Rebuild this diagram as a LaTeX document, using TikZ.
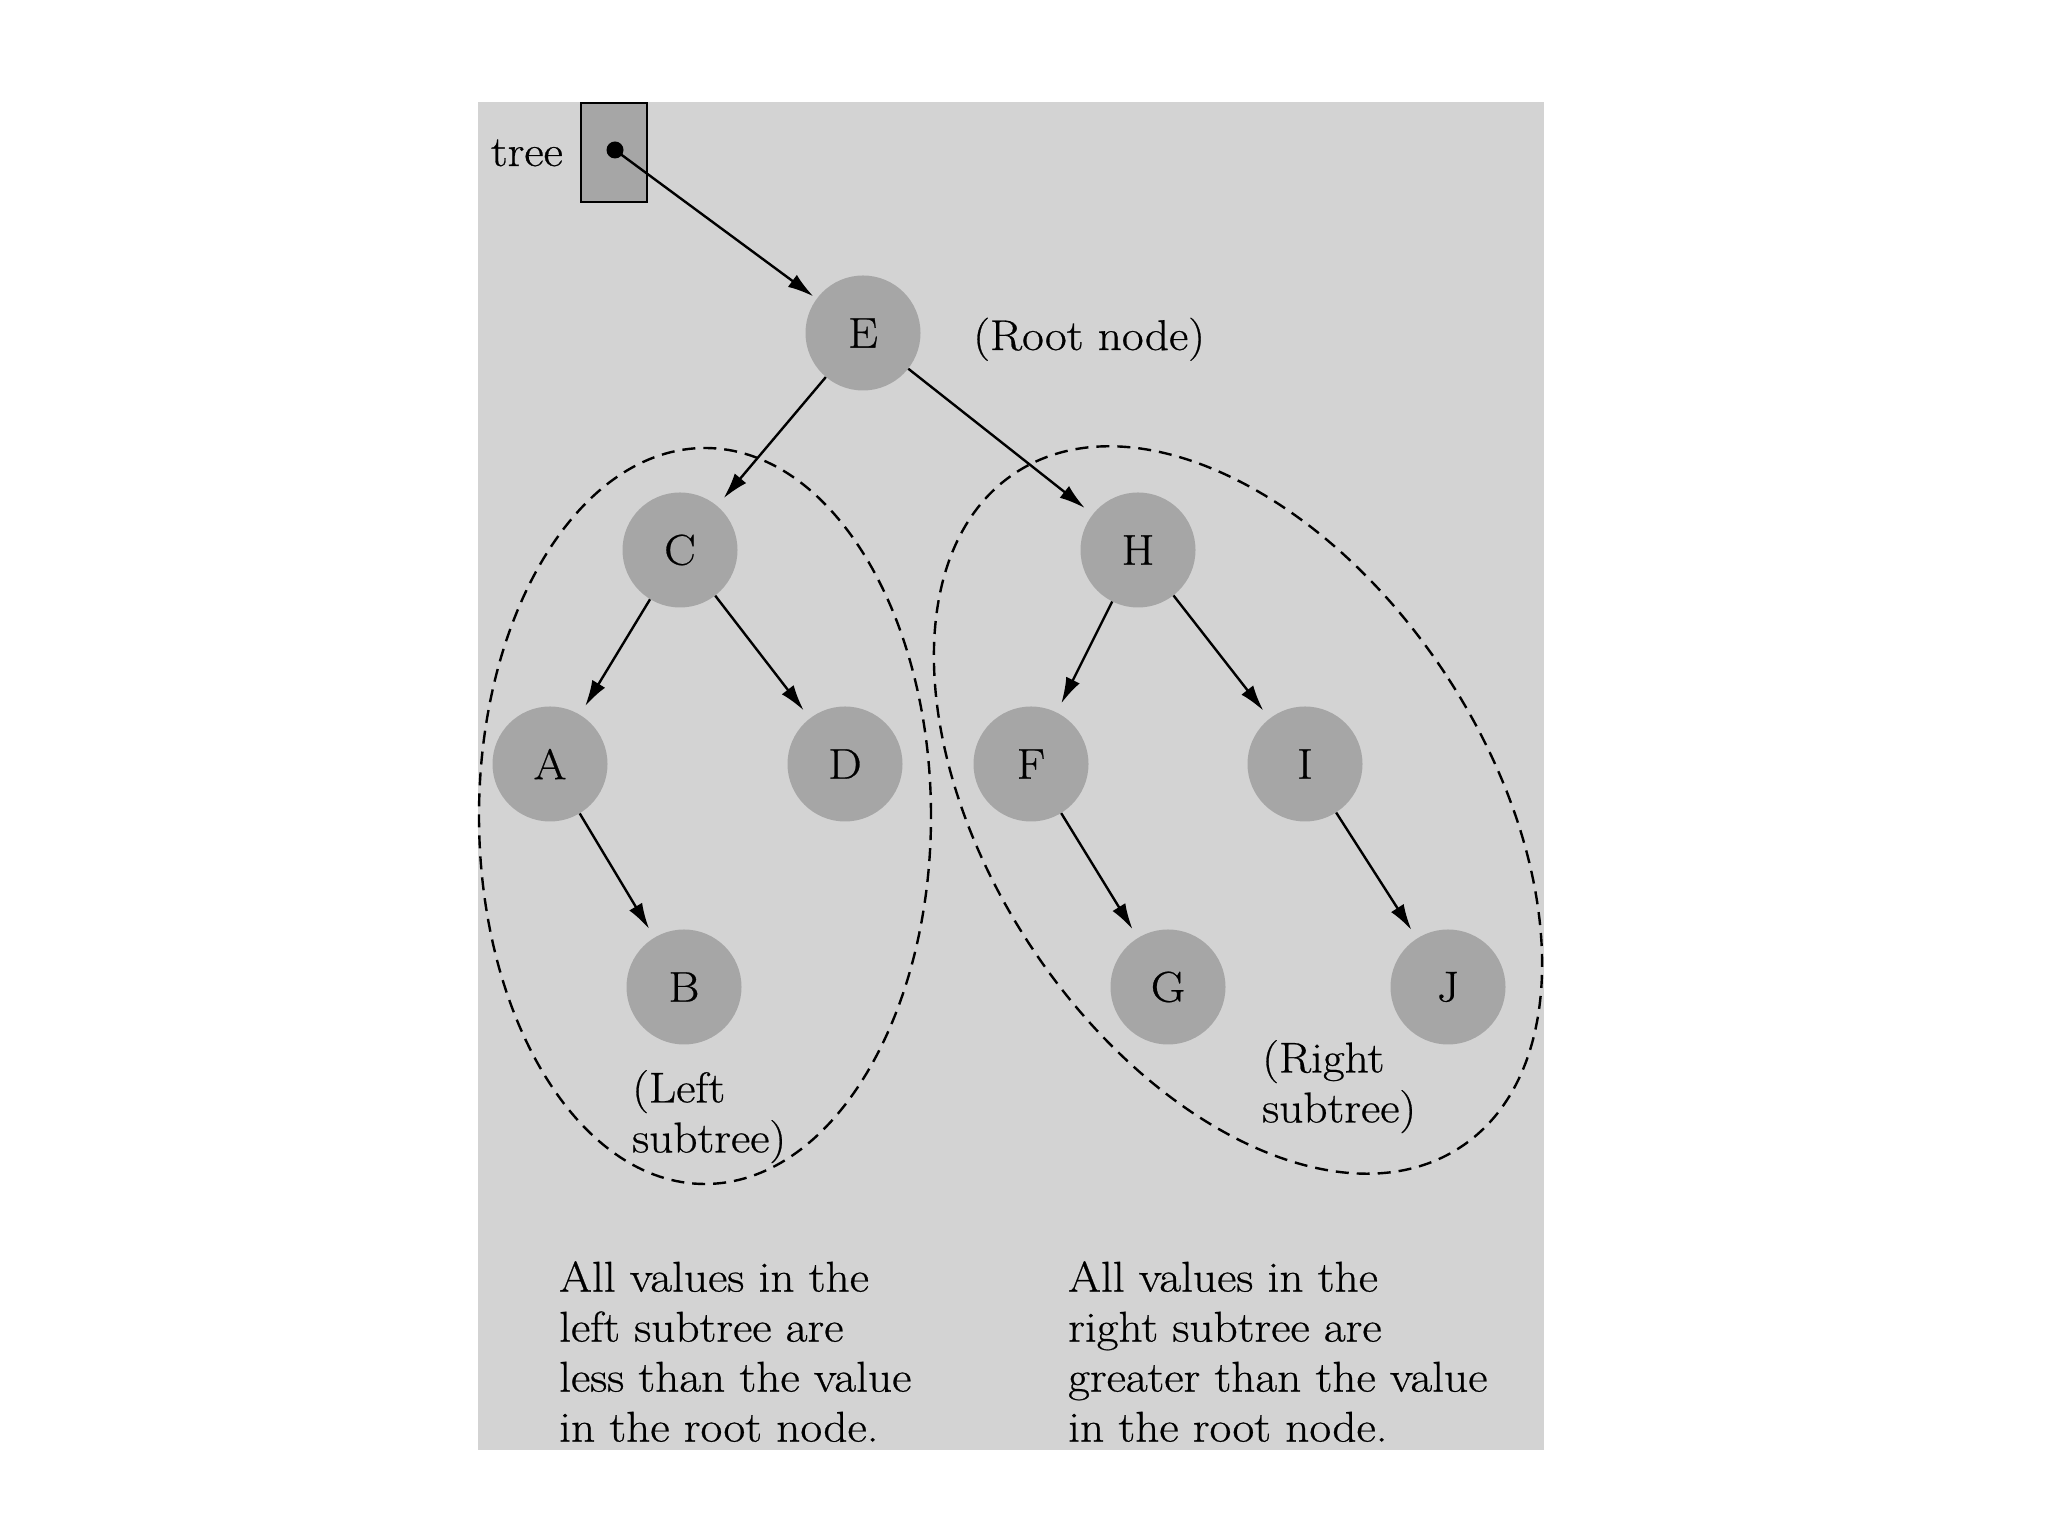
\documentclass[tikz,border=0pt]{standalone}
\usepackage{fontspec}
\setmainfont{Latin Modern Roman}[FakeStretch=1.1, FakeBold=0.6]
\usetikzlibrary{arrows.meta}
\definecolor{bggray}{RGB}{211,211,211}
\definecolor{nodegray}{RGB}{166,166,166}
\begin{document}
\begin{tikzpicture}[x=1pt,y=1pt,
  txt/.style={font=\fontsize{43}{50}\selectfont, inner sep=0pt, align=left},
  tnode/.style={circle, fill=nodegray, minimum size=115pt, inner sep=0pt, font=\fontsize{43}{50}\selectfont},
  arr/.style={line width=2.4pt, -{Latex[length=26pt,width=15pt]}, shorten >=10pt},
  subtree/.style={line width=2.4pt, dash pattern=on 13pt off 8pt}]
\useasboundingbox (0,0) rectangle (2048,1536);
\fill[white] (0,0) rectangle (2048,1536);
\fill[bggray] (478,86) rectangle (1544,1434);

% subtree outlines
\draw[subtree] (705,720) ellipse [x radius=226pt, y radius=368pt];
\draw[subtree, shift={(1238,726)}, rotate=33.5] (0,0) ellipse [x radius=248pt, y radius=404pt];

% pointer box
\node[draw=black, line width=2.2pt, fill=nodegray, minimum width=66pt, minimum height=99pt, inner sep=0pt] (ptr) at (614,1383.5) {};
\node[circle, fill=black, minimum size=17pt, inner sep=0pt] (dot) at (615,1386) {};
\node[txt, anchor=base east] (treelbl) at (563,1370) {tree};

% tree nodes
\node[tnode] (E) at (863,1203) {E};
\node[tnode] (C) at (680,986) {C};
\node[tnode] (H) at (1138,986) {H};
\node[tnode] (A) at (550,772) {A};
\node[tnode] (D) at (845,772) {D};
\node[tnode] (F) at (1031,772) {F};
\node[tnode] (I) at (1305,772) {I};
\node[tnode] (B) at (684,549) {B};
\node[tnode] (G) at (1168,549) {G};
\node[tnode] (J) at (1448,549) {J};

% connectors
\draw[arr, shorten >=4pt] (dot.center) -- (E);
\draw[arr] (E) -- (C);
\draw[arr] (E) -- (H);
\draw[arr] (C) -- (A);
\draw[arr] (C) -- (D);
\draw[arr] (A) -- (B);
\draw[arr] (H) -- (F);
\draw[arr] (H) -- (I);
\draw[arr] (F) -- (G);
\draw[arr] (I) -- (J);

% labels
\node[txt, anchor=base west] (rootlbl) at (973,1186) {(Root node)};
\node[txt, anchor=north west] (leftlbl) at (632,466) {(Left\\subtree)};
\node[txt, anchor=north west] (rightlbl) at (1262,496) {(Right\\subtree)};
\node[txt, anchor=north west] (lefttxt) at (559,275) {All values in the\\left subtree are\\less than the value\\in the root node.};
\node[txt, anchor=north west] (righttxt) at (1068,275) {All values in the\\right subtree are\\greater than the value\\in the root node.};
\end{tikzpicture}
\end{document}
